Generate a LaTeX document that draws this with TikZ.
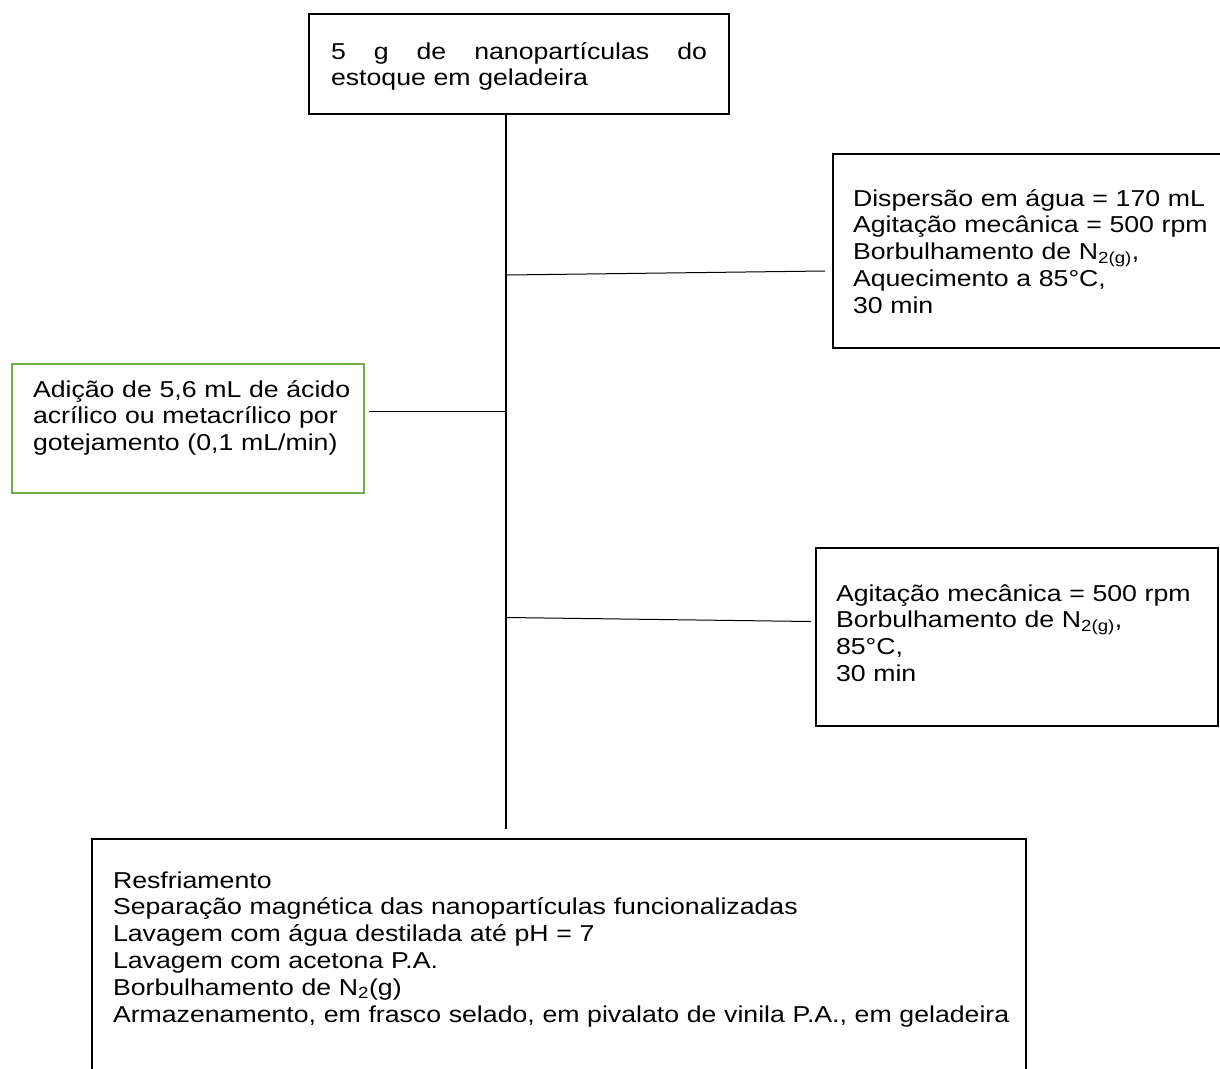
\documentclass[tikz,border=0pt]{standalone}
\usepackage{fontspec}
\setmainfont[FakeStretch=1.16]{Liberation Sans}
\definecolor{boxgreen}{RGB}{112,173,71}
\begin{document}
\begin{tikzpicture}[x=1pt,y=-1pt,
  every node/.style={font=\fontsize{23}{26.8}\selectfont, align=left, inner ysep=0pt, anchor=north west},
  stepbox/.style={draw=black, line width=2pt},
  greenbox/.style={draw=boxgreen, line width=2pt},
  link/.style={draw=black, line width=1pt},
  trunkline/.style={draw=black, line width=1.3pt}]
\useasboundingbox (0,0) rectangle (1220,1068);

% top box: 308..728 x 13..113
\node[stepbox, minimum width=420, inner xsep=22pt, text width=376,
      text height=45, text depth=55] (top) at (308,13)
  {\makebox[376pt]{5\hfill g\hfill de\hfill nanopartículas\hfill do}\\
   estoque em geladeira};

% first set of conditions: 832.. x 153..347
\node[stepbox, minimum width=420, inner xsep=20pt, text width=380,
      text height=52, text depth=142] (cond1) at (832,153)
  {Dispersão em água = 170 mL\\
   Agitação mecânica = 500 rpm\\
   Borbulhamento de N\textsubscript{2(g)},\\
   Aquecimento a 85°C,\\
   30 min};

% monomer addition: 11..363 x 363..492
\node[greenbox, minimum width=352, inner xsep=21pt, text width=310,
      text height=33, text depth=96] (add) at (11,363)
  {\mbox{Adição de 5,6 mL de ácido}\\
   \mbox{acrílico ou metacrílico por}\\
   \mbox{gotejamento (0,1 mL/min)}};

% second set of conditions: 815..1217 x 547..725
\node[stepbox, minimum width=402, inner xsep=20pt, text width=362,
      text height=53, text depth=125] (cond2) at (815,547)
  {Agitação mecânica = 500 rpm\\
   Borbulhamento de N\textsubscript{2(g)},\\
   85°C,\\
   30 min};

% work-up: 91..1025 from 838 down past the lower edge
\node[stepbox, minimum width=934, inner xsep=21pt, text width=892,
      text height=49, text depth=300] (work) at (91,838)
  {Resfriamento\\
   Separação magnética das nanopartículas funcionalizadas\\
   Lavagem com água destilada até pH = 7\\
   Lavagem com acetona P.A.\\
   Borbulhamento de N\textsubscript{2}(g)\\
   \mbox{Armazenamento, em frasco selado, em pivalato de vinila P.A., em geladeira}};

% main line and branches
\coordinate (trunkEnd) at (506,829);
\coordinate (j1) at (507,275);
\coordinate (e1) at (825,271);
\coordinate (j2) at (506,411.5);
\coordinate (e2) at (369,411.5);
\coordinate (j3) at (507,617.5);
\coordinate (e3) at (811,621.5);

\draw[trunkline] (top.south -| trunkEnd) -- (trunkEnd);
\draw[link] (j1) -- (e1);
\draw[link] (e2) -- (j2);
\draw[link] (j3) -- (e3);
\end{tikzpicture}
\end{document}
